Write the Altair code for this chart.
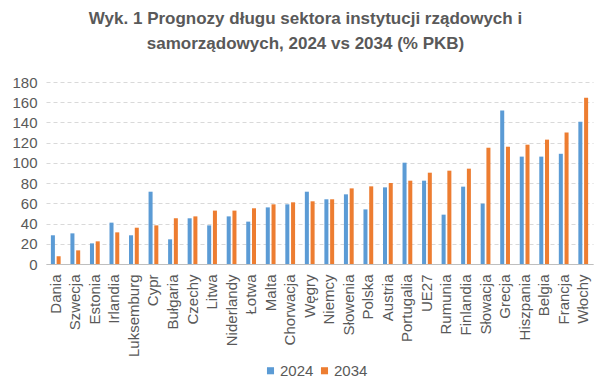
import altair as alt
import pandas as pd

countries = ["Dania", "Szwecja", "Estonia", "Irlandia", "Luksemburg", "Cypr", "Bułgaria",
             "Czechy", "Litwa", "Niderlandy", "Łotwa", "Malta", "Chorwacja", "Węgry",
             "Niemcy", "Słowenia", "Polska", "Austria", "Portugalia", "UE27", "Rumunia",
             "Finlandia", "Słowacja", "Grecja", "Hiszpania", "Belgia", "Francja", "Włochy"]
v2024 = [28.4, 30.3, 20.4, 40.9, 28.4, 71.5, 24.4, 45.2, 38.2, 47.1, 41.9, 56.0, 59.0, 71.5,
         64.0, 68.9, 54.0, 75.8, 100.2, 82.4, 48.8, 76.5, 59.7, 151.7, 106.2, 106.2, 109.0, 140.8]
v2034 = [7.6, 13.5, 22.4, 31.3, 35.9, 38.2, 45.2, 47.1, 52.8, 52.8, 55.1, 59.0, 61.0, 62.0,
         64.0, 74.8, 76.8, 80.1, 82.4, 90.3, 92.3, 94.3, 115.0, 116.0, 118.0, 123.0, 130.0, 164.5]
years = ["2024", "2034"]
colors = ["#5B9BD5", "#ED7D31"]

rows = []
for i, c in enumerate(countries):
    rows.append({"kraj": c, "rok": years[0], "wartosc": v2024[i]})
    rows.append({"kraj": c, "rok": years[1], "wartosc": v2034[i]})
df = pd.DataFrame(rows)

FONT = "Liberation Sans"
GRAY = "#595959"

chart = alt.Chart(df).mark_bar().encode(
    x=alt.X("kraj:N", sort=countries, title=None,
            scale=alt.Scale(paddingInner=0.5, paddingOuter=0.25),
            axis=alt.Axis(labelAngle=-90, ticks=False, labelPadding=10,
                          labelFontSize=15, labelColor=GRAY, labelFont=FONT,
                          domainColor="#BFBFBF", grid=False)),
    xOffset=alt.XOffset("rok:N", scale=alt.Scale(paddingInner=0.3, paddingOuter=0)),
    y=alt.Y("wartosc:Q", title=None,
            scale=alt.Scale(domain=[0, 180], nice=False),
            axis=alt.Axis(values=list(range(0, 181, 20)), domain=False, ticks=False,
                          labelPadding=9, labelFontSize=15, labelColor=GRAY, labelFont=FONT,
                          gridColor="#D9D9D9", gridDash=[4, 3])),
    color=alt.Color("rok:N", scale=alt.Scale(domain=years, range=colors),
                    legend=alt.Legend(orient="none", legendX=217, legendY=281,
                                      direction="horizontal", title=None,
                                      symbolType="square", symbolSize=50,
                                      symbolStrokeWidth=0, labelFontSize=15,
                                      labelColor=GRAY, labelFont=FONT,
                                      columnPadding=3, labelOffset=2)),
).properties(
    width=547,
    height=182,
    padding={"left": 38, "top": 74, "right": 7, "bottom": 116},
    autosize=alt.AutoSizeParams(type="none"),
    title=alt.TitleParams(
        ["Wyk. 1 Prognozy długu sektora instytucji rządowych i",
         "samorządowych, 2024 vs 2034 (% PKB)"],
        anchor="middle", fontSize=17, font=FONT, fontWeight="bold", color=GRAY,
        lineHeight=25, offset=22, dx=-14),
).configure_view(stroke=None)

chart.save("out.html", embed_options={"renderer": "svg", "actions": False})
